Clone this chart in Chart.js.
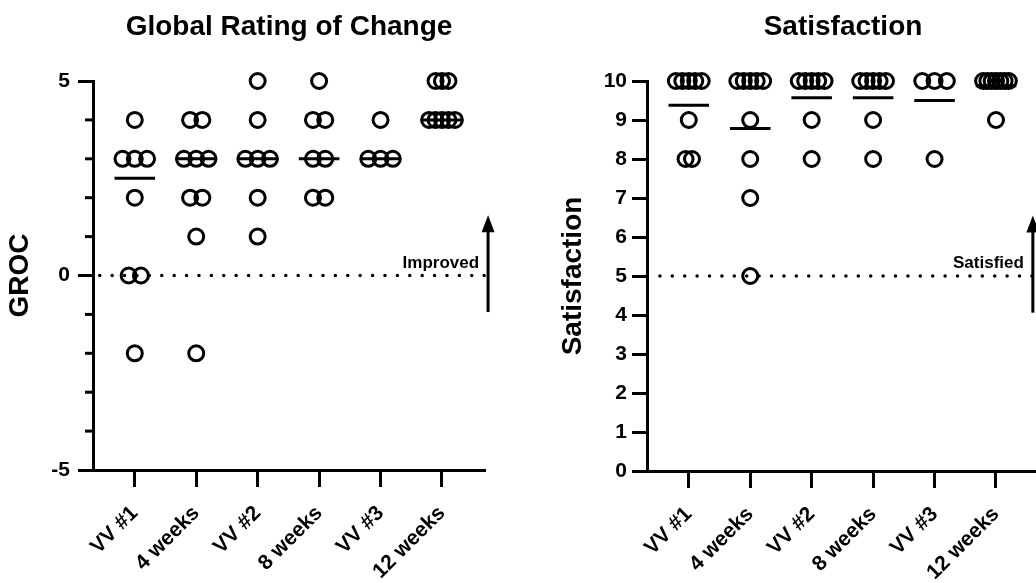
<!DOCTYPE html>
<html lang="en">
<head>
    <meta charset="UTF-8">
    <title>GROC e Satisfaction</title>
    <style>
        html, body { margin: 0; padding: 0; background: #fff; overflow: hidden; width: 1036px; height: 583px; }
        .painel { position: absolute; top: 0; height: 583px; }
        #grocWrap { left: 0; width: 578px; }
        #satWrap { left: 520px; width: 646px; }
    </style>
</head>
<body>
    <div class="painel" id="grocWrap"><canvas id="grocChart"></canvas></div>
    <div class="painel" id="satWrap"><canvas id="satChart"></canvas></div>

    <script src="https://cdn.jsdelivr.net/npm/chart.js"></script>
    <script>
        // categorias do eixo x
        const categorias = ['VV #1', '4 weeks', 'VV #2', '8 weeks', 'VV #3', '12 weeks'];

        // GROC - valores individuais por momento
        const grocVV1 = [4, 3, 3, 3, 2, 0, 0, -2];
        const groc4sem = [4, 4, 3, 3, 3, 2, 2, 1, -2];
        const grocVV2 = [5, 4, 3, 3, 3, 2, 1];
        const groc8sem = [5, 4, 4, 3, 3, 2, 2];
        const grocVV3 = [4, 3, 3, 3];
        const groc12sem = [5, 5, 5, 4, 4, 4, 4, 4];
        const grocCentro = [2.5, 3, 3, 3, 3, 4];
        const grocTicks = [-5, 0, 5];

        // Satisfaction - valores individuais por momento
        const satVV1 = [10, 10, 10, 10, 10, 9, 8, 8];
        const sat4sem = [10, 10, 10, 10, 10, 9, 8, 7, 5];
        const satVV2 = [10, 10, 10, 10, 10, 9, 8];
        const sat8sem = [10, 10, 10, 10, 10, 9, 8];
        const satVV3 = [10, 10, 10, 8];
        const sat12sem = [10, 10, 10, 10, 10, 10, 10, 9];
        const satCentro = [9.38, 8.78, 9.57, 9.57, 9.5, 9.88];
        const satTicks = [0, 1, 2, 3, 4, 5, 6, 7, 8, 9, 10];

        const FONTE = '"Liberation Sans", Arial, sans-serif';

        // espalha os pontos repetidos lado a lado (estilo dot plot)
        function montarPontos(colunas) {
            const pontos = [];
            colunas.forEach((valores, i) => {
                const cont = {};
                valores.forEach(v => cont[v] = (cont[v] || 0) + 1);
                const maxCont = Math.max(...Object.values(cont));
                const passo = maxCont > 1 ? Math.min(0.2, 0.42 / (maxCont - 1)) : 0;
                const usados = {};
                valores.forEach(v => {
                    const n = cont[v];
                    const k = usados[v] || 0;
                    usados[v] = k + 1;
                    pontos.push({ x: i + 1 + (k - (n - 1) / 2) * passo, y: v });
                });
            });
            return pontos;
        }

        // segmentos horizontais (mediana / média)
        function montarLinhas(centros) {
            const d = [];
            centros.forEach((c, i) => {
                d.push({ x: i + 1 - 0.33, y: c }, { x: i + 1 + 0.33, y: c }, { x: i + 1.5, y: null });
            });
            return d;
        }

        // seta + texto do limiar, e ticks menores do eixo y
        const setaPlugin = {
            id: 'seta',
            afterLayout(chart) {
                // centraliza o título sobre a área do gráfico
                if (chart.titleBlock) {
                    chart.titleBlock.left = chart.chartArea.left;
                    chart.titleBlock.right = chart.chartArea.right;
                }
            },
            afterDatasetsDraw(chart, args, opts) {
                const { ctx, scales: { x, y } } = chart;
                const px = x.getPixelForValue(opts.setaX);
                const yBase = y.getPixelForValue(opts.limiar - 0.94);
                const yTopo = y.getPixelForValue(opts.limiar + 1.55);
                ctx.save();
                ctx.strokeStyle = '#000';
                ctx.fillStyle = '#000';
                ctx.lineWidth = 3;
                ctx.beginPath();
                ctx.moveTo(px, yBase);
                ctx.lineTo(px, yTopo + 14);
                ctx.stroke();
                ctx.beginPath();
                ctx.moveTo(px, yTopo);
                ctx.lineTo(px - 6.5, yTopo + 17);
                ctx.lineTo(px + 6.5, yTopo + 17);
                ctx.closePath();
                ctx.fill();
                ctx.font = 'bold 17px ' + FONTE;
                ctx.textAlign = 'right';
                ctx.textBaseline = 'alphabetic';
                ctx.fillText(opts.texto, px - 9, y.getPixelForValue(opts.limiar) - 8);

                // ticks curtos sem rótulo
                const esq = chart.chartArea.left;
                for (let v = y.min; v <= y.max; v++) {
                    if (opts.marcados.includes(v)) continue;
                    const py = y.getPixelForValue(v);
                    ctx.beginPath();
                    ctx.moveTo(esq - 8, py);
                    ctx.lineTo(esq, py);
                    ctx.stroke();
                }
                ctx.restore();
            }
        };

        function criarGrafico(id, cfg) {
            const ctx = document.getElementById(id).getContext('2d');
            return new Chart(ctx, {
                type: 'scatter',
                data: {
                    datasets: [
                        {
                            data: montarPontos(cfg.colunas),
                            pointRadius: 7.5,
                            pointBorderWidth: 3,
                            pointBackgroundColor: 'rgba(0,0,0,0)',
                            pointBorderColor: '#000',
                            clip: false
                        },
                        {
                            type: 'line',
                            data: montarLinhas(cfg.centros),
                            borderColor: '#000',
                            borderWidth: 3,
                            pointRadius: 0,
                            clip: false
                        },
                        {
                            type: 'line',
                            data: [{ x: cfg.linhaIni, y: cfg.limiar }, { x: 6.7, y: cfg.limiar }],
                            borderColor: '#000',
                            borderWidth: 3.5,
                            borderDash: [0, 12.4],
                            borderCapStyle: 'round',
                            pointRadius: 0,
                            clip: false
                        }
                    ]
                },
                options: {
                    responsive: true,
                    maintainAspectRatio: false,
                    animation: false,
                    layout: { padding: { left: 0, right: cfg.padDir, top: 0, bottom: 0 } },
                    plugins: {
                        legend: { display: false },
                        tooltip: { enabled: false },
                        title: {
                            display: true,
                            text: cfg.titulo,
                            color: '#000',
                            font: { family: FONTE, size: 28, weight: 'bold' },
                            padding: { top: 10, bottom: 37.4 }
                        },
                        seta: { setaX: cfg.setaX, limiar: cfg.limiar, texto: cfg.texto, marcados: cfg.marcados }
                    },
                    scales: {
                        x: {
                            type: 'linear',
                            position: 'bottom',
                            min: 0.32,
                            max: 6.7,
                            afterFit: s => { s.height = cfg.altX; },
                            border: { display: true, width: 3, color: '#000' },
                            grid: { drawOnChartArea: false, tickLength: 17, tickWidth: 3, tickColor: '#000' },
                            ticks: {
                                stepSize: 1,
                                includeBounds: false,
                                autoSkip: false,
                                minRotation: 45,
                                maxRotation: 45,
                                padding: 14,
                                color: '#000',
                                font: { family: FONTE, size: 21, weight: 'bold' },
                                callback: v => categorias[v - 1] ?? ''
                            }
                        },
                        y: {
                            type: 'linear',
                            min: cfg.yMin,
                            max: cfg.yMax,
                            afterFit: s => { s.width = cfg.largY; },
                            border: { display: true, width: 3, color: '#000' },
                            grid: {
                                drawOnChartArea: false,
                                tickLength: 15,
                                tickWidth: 3,
                                tickColor: c => cfg.marcados.includes(c.tick.value) ? '#000' : 'rgba(0,0,0,0)'
                            },
                            ticks: {
                                stepSize: 1,
                                autoSkip: false,
                                padding: cfg.padTick,
                                color: '#000',
                                font: { family: FONTE, size: 21, weight: 'bold' },
                                callback: v => cfg.marcados.includes(v) ? v : ''
                            },
                            title: {
                                display: true,
                                text: cfg.tituloY,
                                color: '#000',
                                font: { family: FONTE, size: 28, weight: 'bold' },
                                padding: { top: cfg.padTituloY, bottom: 0 }
                            }
                        }
                    }
                },
                plugins: [setaPlugin]
            });
        }

        const grocChart = criarGrafico('grocChart', {
            colunas: [grocVV1, groc4sem, grocVV2, groc8sem, grocVV3, groc12sem],
            centros: grocCentro,
            marcados: grocTicks,
            titulo: 'Global Rating of Change',
            tituloY: 'GROC',
            texto: 'Improved',
            limiar: 0,
            linhaIni: 0.43,
            setaX: 6.75,
            yMin: -5,
            yMax: 5,
            largY: 93,
            altX: 113,
            padDir: 93,
            padTick: 8,
            padTituloY: 3
        });

        const satChart = criarGrafico('satChart', {
            colunas: [satVV1, sat4sem, satVV2, sat8sem, satVV3, sat12sem],
            centros: satCentro,
            marcados: satTicks,
            titulo: 'Satisfaction',
            tituloY: 'Satisfaction',
            texto: 'Satisfied',
            limiar: 5,
            linhaIni: 0.53,
            setaX: 6.6,
            yMin: 0,
            yMax: 10,
            largY: 127,
            altX: 112,
            padDir: 127,
            padTick: 5,
            padTituloY: 36
        });
    </script>
</body>
</html>
